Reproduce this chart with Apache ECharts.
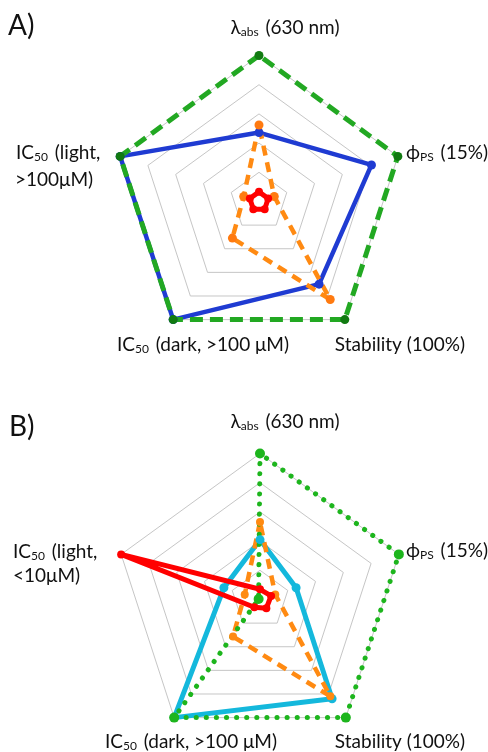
<!DOCTYPE html>
<html>
<head>
<meta charset="utf-8">
<script src="https://cdn.jsdelivr.net/npm/echarts@6/dist/echarts.min.js"></script>
<style>
html,body{margin:0;padding:0;background:#fff;}
#chart{width:488px;height:752px;}
</style>
</head>
<body>
<div id="chart"></div>
<script>
// Axes (counter-clockwise from top): λabs, IC50 light, IC50 dark, Stability, ϕPS
const axes = ['λabs (630 nm)', 'IC50 (light)', 'IC50 (dark)', 'Stability (100%)', 'ϕPS (15%)'];
const axisMax = 5;
const ringCount = 5;

// Panel A values
const aBlue   = [2.36, 5, 5, 3.5, 4.05];
const aGreen  = [5, 5, 5, 5, 5];
const aOrange = [2.62, 0.55, 1.55, 4.15, 0.55];
const aRed    = [0.33, 0.33, 0.33, 0.33, 0.33];

// Panel B values
const bCyan   = [2.05, 1.3, 5, 4.2, 1.3];
const bGreen  = [5, 0.05, 5, 5, 5];
const bOrange = [2.65, 0.55, 1.57, 4.1, 0.55];
const bRed    = [0.35, 5, 0.33, 0.37, 0.4];

// Text labels
const panelTags = ['A)', 'B)'];
const lambdaLabel = 'λ{sub|abs} (630 nm)';
const phiLabel = 'ϕ{sub|PS} (15%)';
const lightLabelA = ['IC{sub|50} (light,', '>100μM)'];
const lightLabelB = ['IC{sub|50} (light,', '<10μM)'];
const darkLabel = 'IC{sub|50} (dark, >100 μM)';
const stabLabel = 'Stability (100%)';

const FONT = 'Lato, "Open Sans", sans-serif';
const rich = {
  sub: {fontSize: 12, fontFamily: FONT, fill: '#111', verticalAlign: 'bottom', lineHeight: 6, padding: [0, 2, 0, 0]}
};

function txt(text, x, y, align, size) {
  return {
    type: 'text', x: x, y: y,
    style: {text: text, fontSize: size || 19, lineHeight: 20, fontFamily: FONT, fill: '#111',
            align: align || 'left', verticalAlign: 'middle', rich: rich}
  };
}

function radarDef(center) {
  return {
    center: center, radius: 146, startAngle: 90, splitNumber: ringCount, shape: 'polygon',
    indicator: axes.map(n => ({name: n, min: 0, max: axisMax})),
    axisName: {show: false},
    axisLine: {show: false},
    axisTick: {show: false},
    axisLabel: {show: false},
    splitArea: {show: false},
    splitLine: {lineStyle: {color: '#c6c6c6', width: 1}}
  };
}

function ser(radarIndex, values, color, symColor, width, type, symSize, cap) {
  return {
    type: 'radar', radarIndex: radarIndex, silent: true,
    symbol: 'circle', symbolSize: symSize,
    lineStyle: {color: color, width: width, type: type, cap: cap || 'butt', join: 'round'},
    itemStyle: {color: symColor},
    data: [{value: values}]
  };
}

const chart = echarts.init(document.getElementById('chart'), null, {renderer: 'canvas'});
chart.setOption({
  animation: false,
  backgroundColor: '#fff',
  radar: [radarDef([259, 201.5]), radarDef([260, 599.5])],
  series: [
    ser(0, aBlue, '#1f3bd2', '#1f3bd2', 4.5, 'solid', 9),
    ser(0, aGreen, '#22a822', '#117a11', 5, [13, 7], 9),
    ser(0, aOrange, '#ff8a12', '#ff7a10', 4.5, [10, 7], 9),
    ser(0, aRed, '#ff0000', '#ff0000', 5, 'solid', 8),
    ser(1, bCyan, '#14b8dc', '#14b8dc', 5, 'solid', 9),
    ser(1, bOrange, '#ff8a12', '#ff8a12', 4.5, [10, 7], 8),
    ser(1, bGreen, '#1db51d', '#1db51d', 5, [0.1, 10], 10, 'round'),
    ser(1, bRed, '#ff0000', '#ff0000', 5, 'solid', 8)
  ],
  graphic: [
    txt(panelTags[0], 8, 26, 'left', 28),
    txt(lambdaLabel, 285, 28, 'center'),
    txt(phiLabel, 406, 153, 'left'),
    txt(lightLabelA[0], 16, 153, 'left'),
    txt(lightLabelA[1], 15, 180, 'left'),
    txt(darkLabel, 203, 345, 'center'),
    txt(stabLabel, 400, 345, 'center'),
    txt(panelTags[1], 9, 427, 'left', 28),
    txt(lambdaLabel, 285, 422, 'center'),
    txt(phiLabel, 406, 551, 'left'),
    txt(lightLabelB[0], 13, 552, 'left'),
    txt(lightLabelB[1], 13, 576, 'left'),
    txt(darkLabel, 191, 742, 'center'),
    txt(stabLabel, 400, 742, 'center')
  ]
});
</script>
</body>
</html>
